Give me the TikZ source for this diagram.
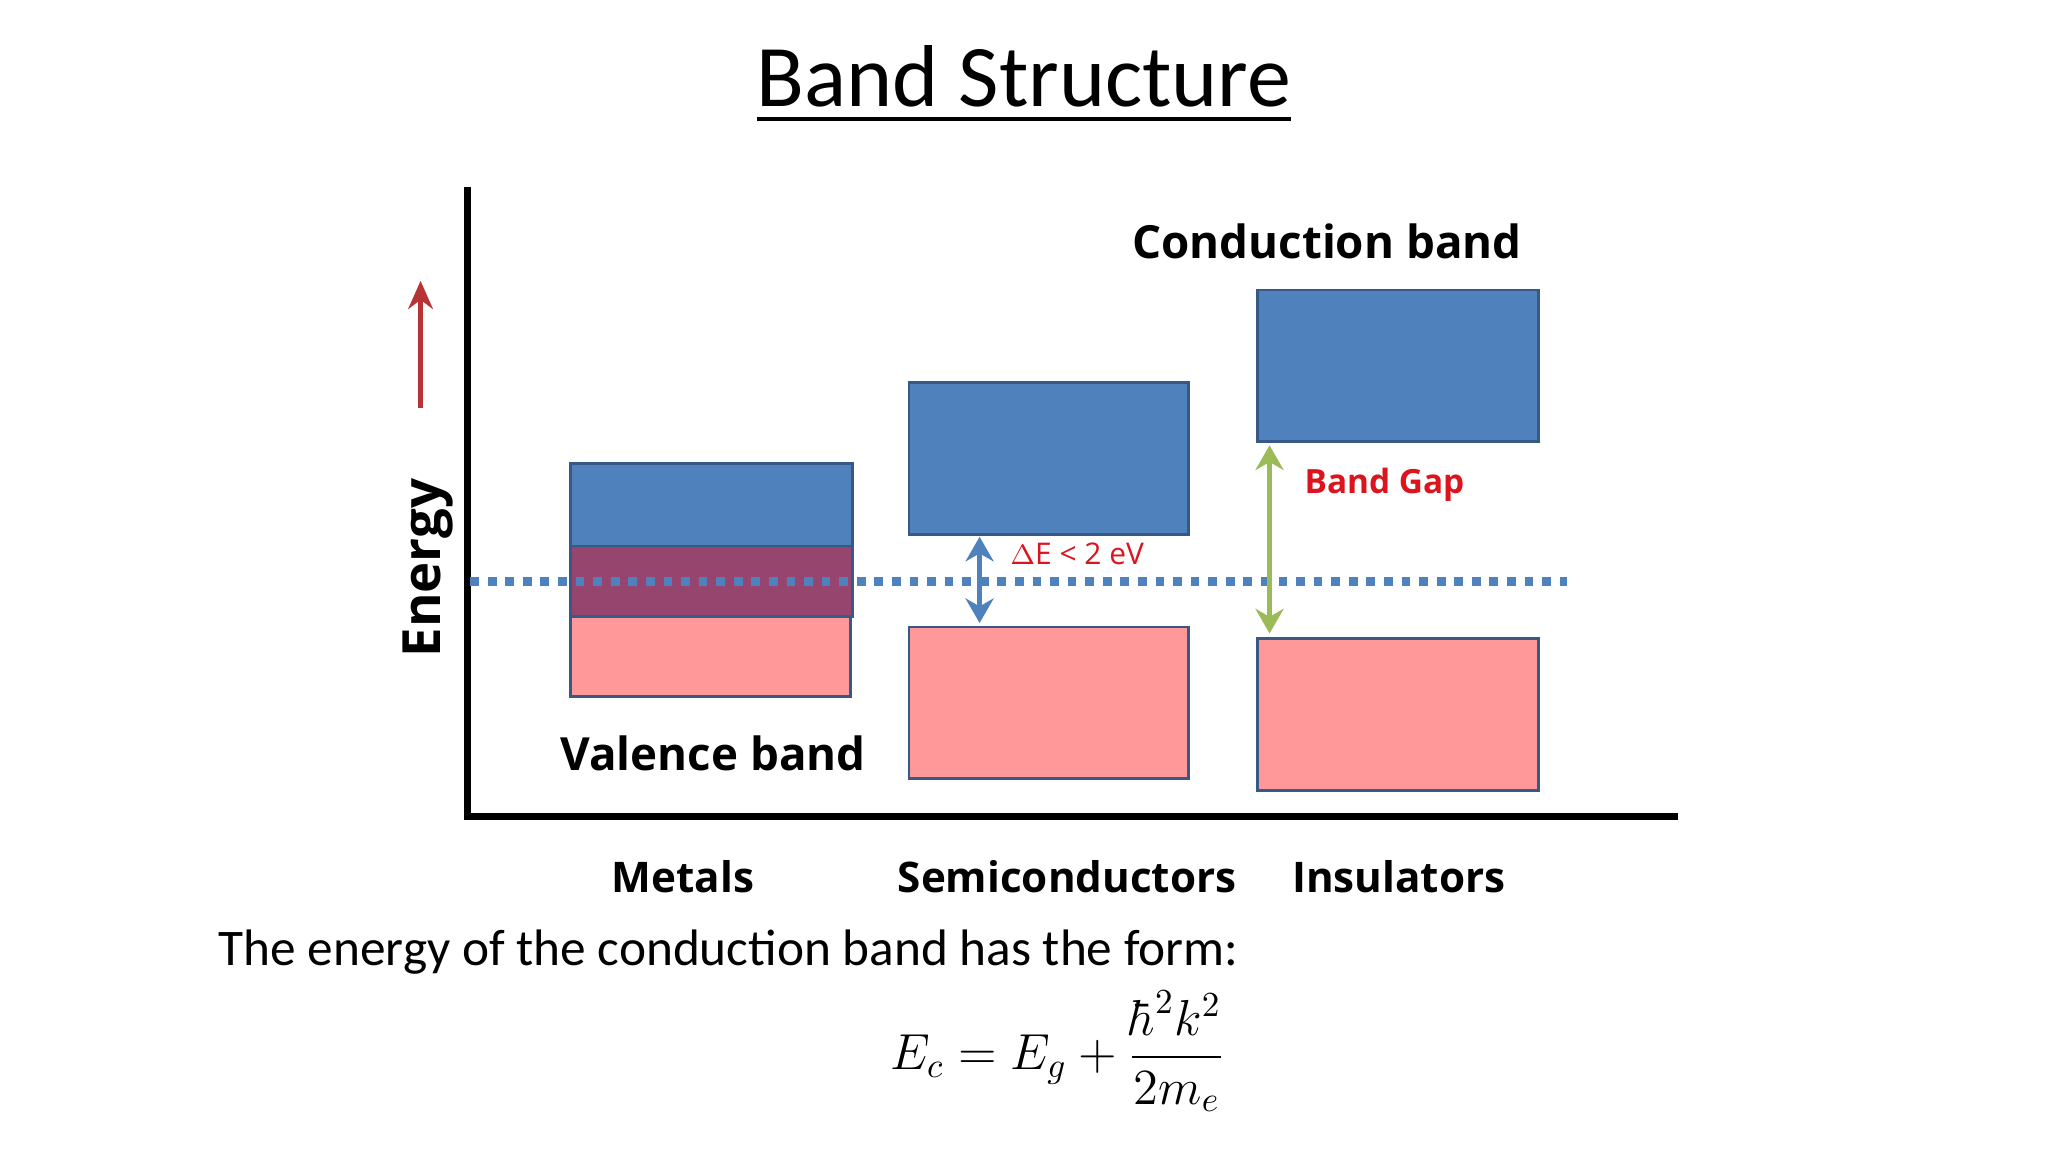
\documentclass[tikz,border=0pt]{standalone}
\usepackage{amsmath}
\usepackage{fontspec}
\setmainfont{Carlito}
\newfontfamily\labelfont{Open Sans}
\usetikzlibrary{arrows.meta}
\definecolor{bandblue}{RGB}{79,129,189}
\definecolor{bandpink}{RGB}{255,153,153}
\definecolor{bandpurple}{RGB}{150,70,110}
\definecolor{gapred}{RGB}{220,20,30}
\definecolor{gapgreen}{RGB}{155,187,89}
\tikzset{
  band/.style={draw=bandblue!70!black, thick},
  tag/.style={font=\labelfont\bfseries\fontsize{13}{15}\selectfont},
  gap/.style={line width=1.6pt, {Stealth[length=7pt,width=8pt]}-{Stealth[length=7pt,width=8pt]}}
}
\begin{document}
\begin{tikzpicture}[x=0.01306cm, y=-0.01306cm]
\useasboundingbox (0,0) rectangle (1568,882);
\node (title) at (784,65) {\fontsize{25}{30}\selectfont\underline{Band Structure}};

% axes
\coordinate (origin) at (358,625);
\coordinate (ytop) at (358,143);
\coordinate (xend) at (1285,625);
\draw[line width=2pt] (ytop) -- (origin) -- (xend);
\coordinate (up0) at (322,312);
\coordinate (up1) at (322,215);
\draw[red!65!black!80, line width=1.6pt, -{Stealth[length=8pt,width=7pt]}] (up0) -- (up1);
\node[tag, rotate=90, font=\labelfont\bfseries\fontsize{15}{18}\selectfont] (energy) at (328,435) {Energy};

% metals
\draw[band, fill=bandblue] (437,355) rectangle (653,418);
\draw[band, fill=bandpink] (437,472) rectangle (651,533);
\draw[band, fill=bandpurple] (437,418) rectangle (653,472);
% semiconductors
\draw[band, fill=bandblue] (696,293) rectangle (910,409);
\draw[band, fill=bandpink] (696,480) rectangle (910,596);
% insulators
\draw[band, fill=bandblue] (963,222) rectangle (1178,338);
\draw[band, fill=bandpink] (963,489) rectangle (1178,605);

% fermi level
\coordinate (f0) at (360,445);
\coordinate (f1) at (1200,445);
\draw[bandblue, line width=2.5pt, dash pattern=on 2.5pt off 2.5pt] (f0) -- (f1);

% gaps
\coordinate (s0) at (750,411);
\coordinate (s1) at (750,477);
\draw[gap, bandblue] (s0) -- (s1);
\node[text=gapred, font=\labelfont\fontsize{8.5}{10}\selectfont, anchor=west] (de) at (764,424) {$\Delta$E < 2 eV};
\coordinate (i0) at (972,341);
\coordinate (i1) at (972,485);
\draw[gap, gapgreen] (i0) -- (i1);
\node[text=gapred, font=\labelfont\bfseries\fontsize{9.5}{11}\selectfont] (bg) at (1060,371) {Band Gap};

\node[tag] (cb) at (1016,185) {Conduction band};
\node[tag] (vb) at (546,577) {Valence band};
\node[tag, font=\labelfont\bfseries\fontsize{12}{14}\selectfont] (metals) at (523,671) {Metals};
\node[tag, font=\labelfont\bfseries\fontsize{12}{14}\selectfont] (semi) at (817,671) {Semiconductors};
\node[tag, font=\labelfont\bfseries\fontsize{12}{14}\selectfont] (ins) at (1071,671) {Insulators};

\node[anchor=west, font=\fontsize{14.6}{17}\selectfont] (form) at (158,729) {The energy of the conduction band has the form:};
\node[font=\fontsize{14}{17}\selectfont] (eq) at (810,805) {$E_c = E_g + \dfrac{\hbar^2 k^2}{2m_e}$};
\end{tikzpicture}
\end{document}
